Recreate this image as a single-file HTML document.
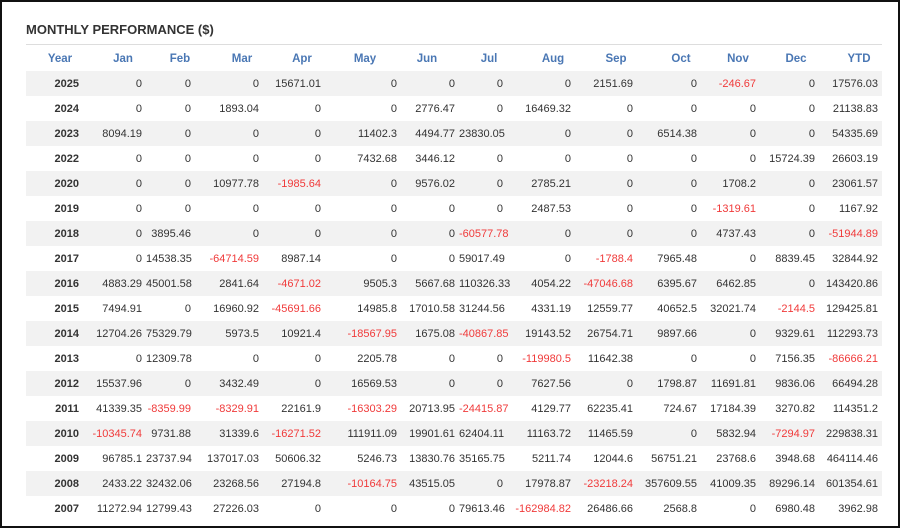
<!DOCTYPE html>
<html><head><meta charset="utf-8"><style>
body{margin:0;width:900px;height:528px;background:#fff;font-family:"Liberation Sans",Arial,sans-serif;overflow:hidden}
.frame{position:absolute;left:0;top:0;width:896px;height:524px;border:2px solid #111}
h1{position:absolute;left:26px;top:22px;margin:0;font-size:13px;font-weight:bold;color:#333}
.line{position:absolute;left:26px;top:44px;width:856px;height:1px;background:#ddd}
table{position:absolute;left:26px;top:46px;border-collapse:collapse;table-layout:fixed;width:856px;font-size:11px;color:#333}
th{height:25px;color:#4a77b4;font-weight:bold;text-align:center;padding:0;font-size:11.5px;white-space:nowrap;overflow:visible}
td{height:25px;text-align:right;padding:0 4px 0 0;white-space:nowrap}
td:first-child{font-weight:bold;padding-right:9px}
tr:nth-child(even) td{background:#f2f2f2}
.n{color:#f03a3a}
</style></head><body>
<div class="frame"></div>
<h1>MONTHLY PERFORMANCE ($)</h1>
<div class="line"></div>
<table>
<colgroup><col style="width:62px"><col style="width:58px"><col style="width:49px"><col style="width:68px"><col style="width:62px"><col style="width:76px"><col style="width:58px"><col style="width:48px"><col style="width:68px"><col style="width:62px"><col style="width:64px"><col style="width:59px"><col style="width:59px"><col style="width:63px"></colgroup>
<tr><th style="padding-left:6px">Year</th><th style="padding-left:12px">Jan</th><th style="padding-left:19px">Feb</th><th style="padding-left:26px">Mar</th><th style="padding-left:16px">Apr</th><th style="padding-left:4px">May</th><th style="padding-right:6px">Jun</th><th style="padding-left:12px">Jul</th><th style="padding-left:24px">Aug</th><th style="padding-left:20px">Sep</th><th style="padding-left:24px">Oct</th><th style="padding-left:15px">Nov</th><th style="padding-left:13px">Dec</th><th style="padding-left:17px">YTD</th></tr>
<tr><td>2025</td><td>0</td><td>0</td><td>0</td><td>15671.01</td><td>0</td><td>0</td><td>0</td><td>0</td><td>2151.69</td><td>0</td><td class="n">-246.67</td><td>0</td><td>17576.03</td></tr>
<tr><td>2024</td><td>0</td><td>0</td><td>1893.04</td><td>0</td><td>0</td><td>2776.47</td><td>0</td><td>16469.32</td><td>0</td><td>0</td><td>0</td><td>0</td><td>21138.83</td></tr>
<tr><td>2023</td><td>8094.19</td><td>0</td><td>0</td><td>0</td><td>11402.3</td><td>4494.77</td><td>23830.05</td><td>0</td><td>0</td><td>6514.38</td><td>0</td><td>0</td><td>54335.69</td></tr>
<tr><td>2022</td><td>0</td><td>0</td><td>0</td><td>0</td><td>7432.68</td><td>3446.12</td><td>0</td><td>0</td><td>0</td><td>0</td><td>0</td><td>15724.39</td><td>26603.19</td></tr>
<tr><td>2020</td><td>0</td><td>0</td><td>10977.78</td><td class="n">-1985.64</td><td>0</td><td>9576.02</td><td>0</td><td>2785.21</td><td>0</td><td>0</td><td>1708.2</td><td>0</td><td>23061.57</td></tr>
<tr><td>2019</td><td>0</td><td>0</td><td>0</td><td>0</td><td>0</td><td>0</td><td>0</td><td>2487.53</td><td>0</td><td>0</td><td class="n">-1319.61</td><td>0</td><td>1167.92</td></tr>
<tr><td>2018</td><td>0</td><td>3895.46</td><td>0</td><td>0</td><td>0</td><td>0</td><td class="n">-60577.78</td><td>0</td><td>0</td><td>0</td><td>4737.43</td><td>0</td><td class="n">-51944.89</td></tr>
<tr><td>2017</td><td>0</td><td>14538.35</td><td class="n">-64714.59</td><td>8987.14</td><td>0</td><td>0</td><td>59017.49</td><td>0</td><td class="n">-1788.4</td><td>7965.48</td><td>0</td><td>8839.45</td><td>32844.92</td></tr>
<tr><td>2016</td><td>4883.29</td><td>45001.58</td><td>2841.64</td><td class="n">-4671.02</td><td>9505.3</td><td>5667.68</td><td>110326.33</td><td>4054.22</td><td class="n">-47046.68</td><td>6395.67</td><td>6462.85</td><td>0</td><td>143420.86</td></tr>
<tr><td>2015</td><td>7494.91</td><td>0</td><td>16960.92</td><td class="n">-45691.66</td><td>14985.8</td><td>17010.58</td><td>31244.56</td><td>4331.19</td><td>12559.77</td><td>40652.5</td><td>32021.74</td><td class="n">-2144.5</td><td>129425.81</td></tr>
<tr><td>2014</td><td>12704.26</td><td>75329.79</td><td>5973.5</td><td>10921.4</td><td class="n">-18567.95</td><td>1675.08</td><td class="n">-40867.85</td><td>19143.52</td><td>26754.71</td><td>9897.66</td><td>0</td><td>9329.61</td><td>112293.73</td></tr>
<tr><td>2013</td><td>0</td><td>12309.78</td><td>0</td><td>0</td><td>2205.78</td><td>0</td><td>0</td><td class="n">-119980.5</td><td>11642.38</td><td>0</td><td>0</td><td>7156.35</td><td class="n">-86666.21</td></tr>
<tr><td>2012</td><td>15537.96</td><td>0</td><td>3432.49</td><td>0</td><td>16569.53</td><td>0</td><td>0</td><td>7627.56</td><td>0</td><td>1798.87</td><td>11691.81</td><td>9836.06</td><td>66494.28</td></tr>
<tr><td>2011</td><td>41339.35</td><td class="n">-8359.99</td><td class="n">-8329.91</td><td>22161.9</td><td class="n">-16303.29</td><td>20713.95</td><td class="n">-24415.87</td><td>4129.77</td><td>62235.41</td><td>724.67</td><td>17184.39</td><td>3270.82</td><td>114351.2</td></tr>
<tr><td>2010</td><td class="n">-10345.74</td><td>9731.88</td><td>31339.6</td><td class="n">-16271.52</td><td>111911.09</td><td>19901.61</td><td>62404.11</td><td>11163.72</td><td>11465.59</td><td>0</td><td>5832.94</td><td class="n">-7294.97</td><td>229838.31</td></tr>
<tr><td>2009</td><td>96785.1</td><td>23737.94</td><td>137017.03</td><td>50606.32</td><td>5246.73</td><td>13830.76</td><td>35165.75</td><td>5211.74</td><td>12044.6</td><td>56751.21</td><td>23768.6</td><td>3948.68</td><td>464114.46</td></tr>
<tr><td>2008</td><td>2433.22</td><td>32432.06</td><td>23268.56</td><td>27194.8</td><td class="n">-10164.75</td><td>43515.05</td><td>0</td><td>17978.87</td><td class="n">-23218.24</td><td>357609.55</td><td>41009.35</td><td>89296.14</td><td>601354.61</td></tr>
<tr><td>2007</td><td>11272.94</td><td>12799.43</td><td>27226.03</td><td>0</td><td>0</td><td>0</td><td>79613.46</td><td class="n">-162984.82</td><td>26486.66</td><td>2568.8</td><td>0</td><td>6980.48</td><td>3962.98</td></tr>
</table>
</body></html>
